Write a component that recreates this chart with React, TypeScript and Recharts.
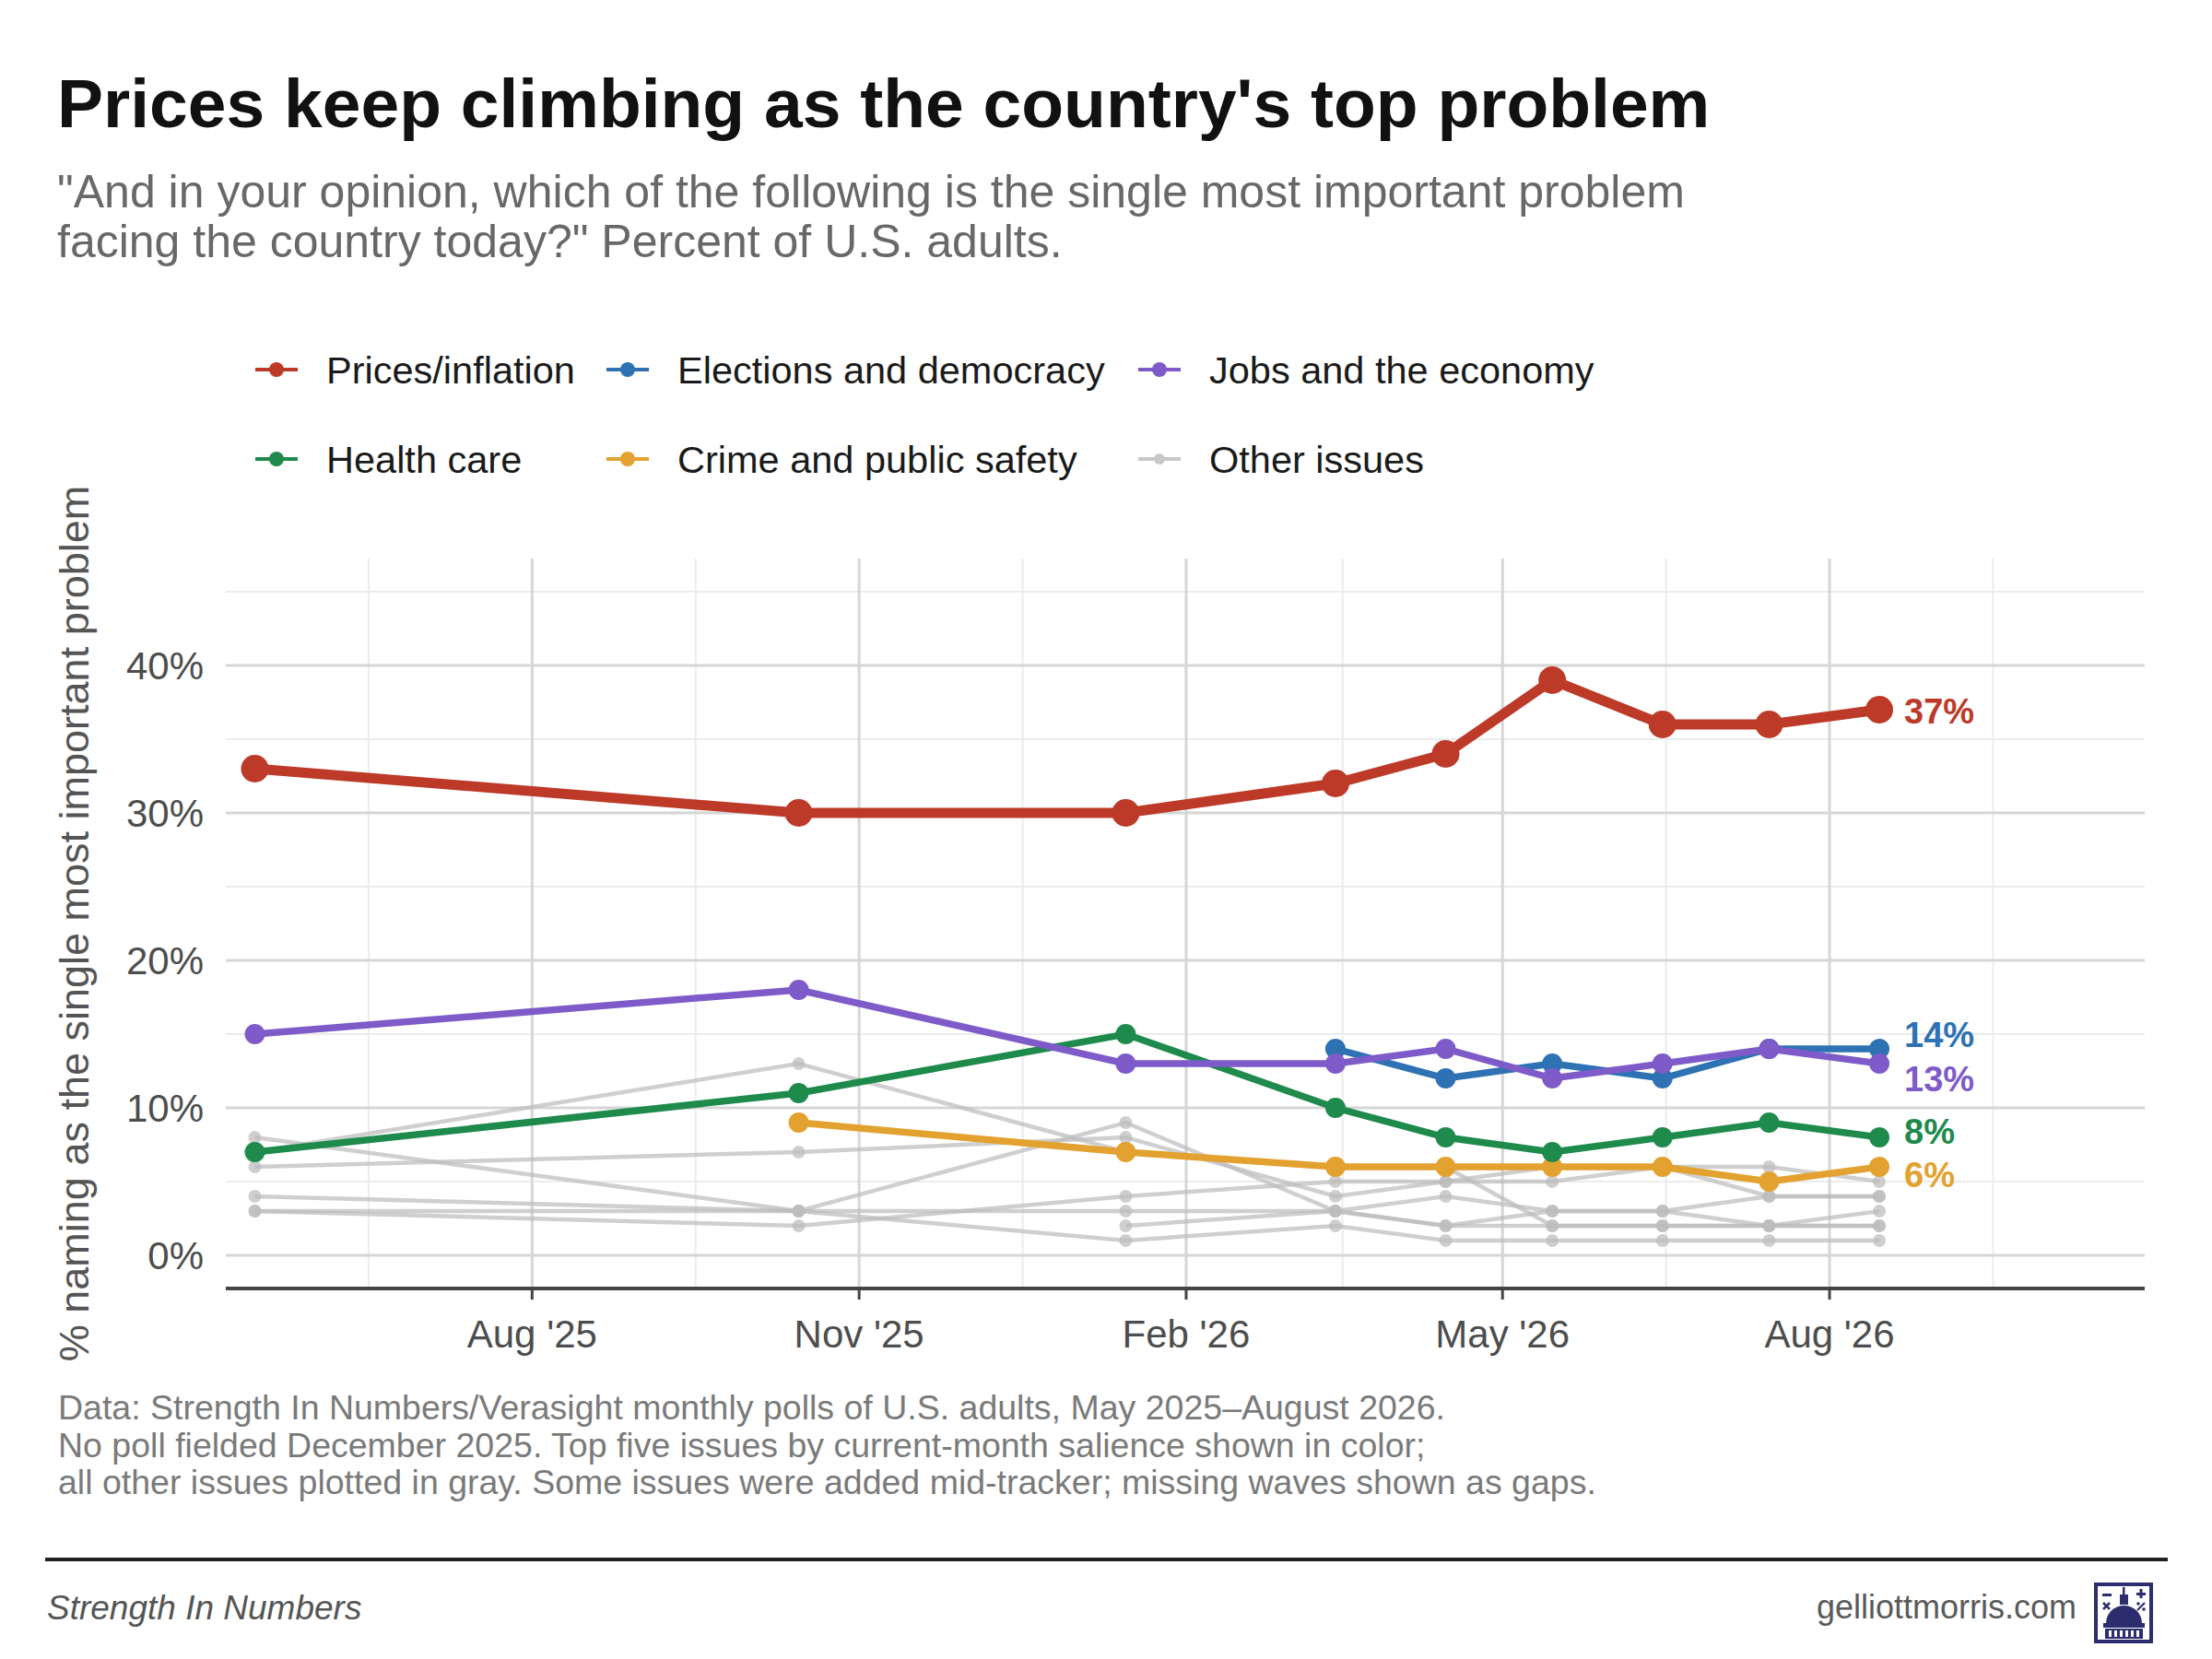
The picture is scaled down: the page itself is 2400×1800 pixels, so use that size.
import React from 'react'
import { LineChart, Line, XAxis, YAxis, CartesianGrid } from 'recharts'

const FONT = '"Liberation Sans", Arial, Helvetica, sans-serif'

// poll waves (mid-month fielding)
const waves = ['2025-05-15', '2025-10-15', '2026-01-15', '2026-03-15', '2026-04-15', '2026-05-15', '2026-06-15', '2026-07-15', '2026-08-15']

const prices = [33, 30, 30, 32, 34, 39, 36, 36, 37]
const elections = [null, null, null, 14, 12, 13, 12, 14, 14]
const jobs = [15, 18, 13, 13, 14, 12, 13, 14, 13]
const health = [7, 11, 15, 10, 8, 7, 8, 9, 8]
const crime = [null, 9, 7, 6, 6, 6, 6, 5, 6]

// everything else, drawn in gray
const other1 = [8, 3, 9, 3, 2, 3, 3, 2, 3]
const other2 = [7, 13, 7, 6, 6, 2, 2, 2, 2]
const other3 = [6, 7, 8, 4, 5, 5, 6, 6, 5]
const other4 = [4, 3, 3, 3, 4, 3, 3, 4, 4]
const other5 = [3, 3, 1, 2, 1, 1, 1, 1, 1]
const other6 = [3, 2, 4, 5, 5, 6, 6, 4, 4]
const other7 = [null, null, 2, 3, 2, 2, 2, 2, 2]
const others = [other1, other2, other3, other4, other5, other6, other7]

const majorTicks = ['2025-08-01', '2025-11-01', '2026-02-01', '2026-05-01', '2026-08-01']
const majorLabels = ["Aug '25", "Nov '25", "Feb '26", "May '26", "Aug '26"]
const minorTicks = ['2025-06-16', '2025-09-16', '2025-12-17', '2026-03-17', '2026-06-16', '2026-09-16']
const yTicks = [0, 10, 20, 30, 40]
const yMinor = [5, 15, 25, 35, 45]

const day = (s: string) => Date.parse(s + 'T00:00:00Z')
const X_MIN = Date.parse('2025-05-06T20:00:00Z')
const X_MAX = Date.parse('2026-10-28T16:00:00Z')

const rows = waves.map((w, i) => {
  const r: Record<string, number | null> = {
    x: day(w),
    prices: prices[i],
    elections: elections[i],
    jobs: jobs[i],
    health: health[i],
    crime: crime[i],
  }
  others.forEach((o, k) => { r['o' + k] = o[i] })
  return r
})

// drawn bottom to top
const series = [
  { key: 'crime', name: 'Crime and public safety', color: '#E3A12F', width: 7.5, r: 11, dy: 9 },
  { key: 'health', name: 'Health care', color: '#1E8A4C', width: 7.5, r: 11, dy: -6 },
  { key: 'elections', name: 'Elections and democracy', color: '#2E72B3', width: 7.5, r: 11, dy: -15 },
  { key: 'jobs', name: 'Jobs and the economy', color: '#7E5BC9', width: 7.5, r: 11, dy: 17 },
  { key: 'prices', name: 'Prices/inflation', color: '#BD3A29', width: 11, r: 15, dy: 2 },
]

const GRAY = '#bcbcbc'

const legendItems = [
  { name: 'Prices/inflation', color: '#BD3A29', x: 300, y: 401 },
  { name: 'Elections and democracy', color: '#2E72B3', x: 681, y: 401 },
  { name: 'Jobs and the economy', color: '#7E5BC9', x: 1258, y: 401 },
  { name: 'Health care', color: '#1E8A4C', x: 300, y: 498 },
  { name: 'Crime and public safety', color: '#E3A12F', x: 681, y: 498 },
  { name: 'Other issues', color: '#c8c8c8', x: 1258, y: 498 },
]

const caption = [
  'Data: Strength In Numbers/Verasight monthly polls of U.S. adults, May 2025\u2013August 2026.',
  'No poll fielded December 2025. Top five issues by current-month salience shown in color;',
  'all other issues plotted in gray. Some issues were added mid-tracker; missing waves shown as gaps.',
]

function endLabel(color: string, dy: number) {
  return (p: any) => {
    if (p.index !== waves.length - 1 || p.value == null) return null
    return (
      <text x={p.x + 27} y={p.y + dy} dominantBaseline="central" fill={color} fontSize={38} fontWeight={700} fontFamily={FONT}>
        {p.value}%
      </text>
    )
  }
}

function Logo() {
  const c = '#2b2d6e'
  return (
    <g transform="translate(2272,1717)">
      <rect x={2} y={2} width={60} height={62} fill="none" stroke={c} strokeWidth={4} />
      <rect x={9} y={12} width={10} height={3} fill={c} />
      <rect x={46} y={11} width={10} height={3} fill={c} />
      <rect x={49.5} y={7} width={3} height={10} fill={c} />
      <path d="M10 22 L17 29 M17 22 L10 29" stroke={c} strokeWidth={2.5} />
      <path d="M47 30 L55 22" stroke={c} strokeWidth={2.2} />
      <circle cx={48} cy={23} r={1.8} fill={c} />
      <circle cx={54} cy={29} r={1.8} fill={c} />
      <rect x={31} y={5} width={2.5} height={8} fill={c} />
      <rect x={28} y={13} width={9} height={11} fill={c} />
      <path d="M13 44 A19.5 19 0 0 1 52 44 Z" fill={c} />
      <rect x={10} y={44} width={45} height={5} fill={c} />
      <rect x={12} y={50} width={41} height={11} fill={c} />
      {[16, 22, 28, 34, 40, 46].map((cx) => (
        <rect key={cx} x={cx} y={52} width={3} height={7} fill="#fff" />
      ))}
    </g>
  )
}

export default function App() {
  return (
    <div style={{ position: 'absolute', left: 0, top: 0, width: 2400, height: 1800, background: '#fff', fontFamily: FONT }}>
      <svg width={2400} height={1800} style={{ position: 'absolute', left: 0, top: 0 }}>
        <text x={62} y={138} fontSize={75} fontWeight={700} fill="#111" fontFamily={FONT}>
          Prices keep climbing as the country's top problem
        </text>
        <text x={62} y={225} fontSize={50} fill="#686868" fontFamily={FONT}>
          "And in your opinion, which of the following is the single most important problem
        </text>
        <text x={62} y={279} fontSize={50} fill="#686868" fontFamily={FONT}>
          facing the country today?" Percent of U.S. adults.
        </text>

        {legendItems.map((it) => (
          <g key={it.name}>
            <line x1={it.x - 23} x2={it.x + 23} y1={it.y} y2={it.y} stroke={it.color} strokeWidth={4} />
            <circle cx={it.x} cy={it.y} r={it.name === 'Other issues' ? 6 : 8} fill={it.color} />
            <text x={it.x + 54} y={it.y} dominantBaseline="central" fontSize={41.5} fill="#1a1a1a" fontFamily={FONT}>
              {it.name}
            </text>
          </g>
        ))}

        <text
          transform="translate(96,1002) rotate(-90)"
          textAnchor="middle"
          fontSize={45}
          fill="#555"
          fontFamily={FONT}
        >
          % naming as the single most important problem
        </text>

        {caption.map((c, i) => (
          <text key={i} x={63} y={1540 + i * 40.5} fontSize={37.5} fill="#7a7a7a" fontFamily={FONT}>
            {c}
          </text>
        ))}

        <rect x={49} y={1690} width={2303} height={4} fill="#222" />
        <text x={51} y={1757} fontSize={37} fontStyle="italic" fill="#555" fontFamily={FONT}>
          Strength In Numbers
        </text>
        <text x={2253} y={1756} textAnchor="end" fontSize={36} fill="#5a5a5a" fontFamily={FONT}>
          gelliottmorris.com
        </text>
        <Logo />
      </svg>

      <div style={{ position: 'absolute', left: 0, top: 0 }}>
        <LineChart width={2400} height={1800} data={rows} margin={{ top: 606, right: 73, bottom: 302, left: 85 }}>
          <CartesianGrid horizontalValues={yMinor} verticalValues={minorTicks.map(day)} stroke="#ececec" strokeWidth={2} />
          <CartesianGrid horizontalValues={yTicks} verticalValues={majorTicks.map(day)} stroke="#d6d6d6" strokeWidth={3} />
          <XAxis
            dataKey="x"
            type="number"
            domain={[X_MIN, X_MAX]}
            allowDataOverflow
            ticks={majorTicks.map(day)}
            tickFormatter={(v: number) => majorLabels[majorTicks.map(day).indexOf(v)] ?? ''}
            height={100}
            axisLine={{ stroke: '#444', strokeWidth: 4 }}
            tickLine={{ stroke: '#444', strokeWidth: 3 }}
            tickSize={12}
            tickMargin={22}
            tick={{ fontSize: 42, fill: '#4d4d4d', fontFamily: FONT }}
          />
          <YAxis
            type="number"
            domain={[-2.25, 47.25]}
            allowDataOverflow
            ticks={yTicks}
            tickFormatter={(v: number) => `${v}%`}
            width={160}
            axisLine={false}
            tickLine={false}
            tickSize={0}
            tickMargin={24}
            tick={{ fontSize: 42, fill: '#4d4d4d', fontFamily: FONT }}
          />
          {others.map((_, k) => (
            <Line
              key={'o' + k}
              dataKey={'o' + k}
              type="linear"
              stroke={GRAY}
              strokeOpacity={0.72}
              strokeWidth={4.5}
              dot={{ r: 7, fill: GRAY, fillOpacity: 0.72, stroke: 'none' }}
              activeDot={false}
              isAnimationActive={false}
            />
          ))}
          {series.map((s) => (
            <Line
              key={s.key}
              dataKey={s.key}
              type="linear"
              stroke={s.color}
              strokeWidth={s.width}
              dot={{ r: s.r, fill: s.color, stroke: 'none' }}
              activeDot={false}
              label={endLabel(s.color, s.dy)}
              isAnimationActive={false}
            />
          ))}
        </LineChart>
      </div>
    </div>
  )
}
